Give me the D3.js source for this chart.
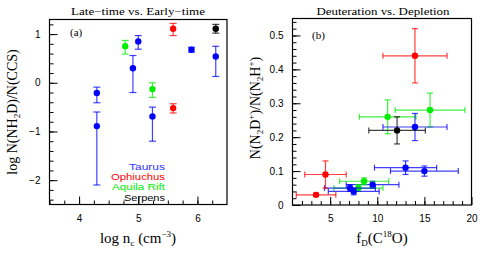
<!DOCTYPE html>
<html>
<head>
<meta charset="utf-8">
<script src="https://cdn.jsdelivr.net/npm/d3@7"></script>
<style>
  body { margin: 0; background: #fff; }
  svg { display: block; }
  .tick text { font-family: "Liberation Sans", Arial, sans-serif; font-size: 10px; fill: #000; }
  .domain { display: none; }
  .serif { font-family: "Liberation Serif", "Times New Roman", serif; }
</style>
</head>
<body>
<div id="chart"></div>
<script>
// region colours
const regions = ['Taurus', 'Ophiuchus', 'Aquila Rift', 'Serpens'];
const regionColors = ['#0000ff', '#ff0000', '#00ee00', '#000000'];

// panel (a): log n_c vs log N(NH2D)/N(CCS)
const aRegion = ['Taurus', 'Taurus', 'Aquila Rift', 'Taurus', 'Taurus', 'Aquila Rift', 'Taurus', 'Ophiuchus', 'Ophiuchus', 'Taurus', 'Serpens', 'Taurus'];
const aX   = [4.30, 4.30, 4.78, 4.91, 5.00, 5.24, 5.24, 5.59, 5.59, 5.90, 6.31, 6.31];
const aY   = [-0.21, -0.89, 0.75, 0.30, 0.85, -0.13, -0.69, 1.11, -0.52, 0.68, 1.11, 0.54];
const aYhi = [-0.09, -0.60, 0.87, 0.56, 0.97, 0.00, -0.50, 1.22, -0.43, 0.73, 1.20, 0.75];
const aYlo = [-0.41, -2.10, 0.59, -0.20, 0.69, -0.30, -1.20, 0.97, -0.62, 0.63, 1.02, 0.13];

// panel (b): f_D(C18O) vs N(N2D+)/N(N2H+)
const bRegion = ['Ophiuchus', 'Aquila Rift', 'Aquila Rift', 'Taurus', 'Serpens', 'Taurus', 'Taurus', 'Taurus', 'Aquila Rift', 'Aquila Rift', 'Taurus', 'Taurus', 'Ophiuchus', 'Ophiuchus'];
const bX    = [14.0, 15.6, 11.1, 14.0, 12.1, 13.0, 15.0, 9.5, 8.6, 8.0, 7.1, 7.5, 4.5, 3.5];
const bXerr = [3.4, 3.7, 3.0, 3.4, 3.0, 3.3, 3.6, 2.8, 2.6, 2.6, 2.7, 2.7, 2.2, 2.1];
const bY    = [0.44, 0.28, 0.26, 0.23, 0.22, 0.11, 0.10, 0.06, 0.07, 0.05, 0.05, 0.04, 0.09, 0.03];
const bYerr = [0.08, 0.05, 0.05, 0.04, 0.04, 0.02, 0.015, 0.01, 0.01, 0.01, 0.01, 0.01, 0.04, 0.005];

const aXTicks = [4, 5, 6];
const aYTicks = [-2, -1, 0, 1];
const bXTicks = [5, 10, 15, 20];
const bYTicks = [0, 0.1, 0.2, 0.3, 0.4, 0.5];

const width = 491, height = 253;
const color = d3.scaleOrdinal().domain(regions).range(regionColors);

const svg = d3.select('#chart').append('svg')
  .attr('width', width).attr('height', height);

function frame(x, y) {
  const [x0, x1] = x.range(), [y0, y1] = y.range();
  svg.append('rect')
    .attr('x', x0).attr('y', y1)
    .attr('width', x1 - x0).attr('height', y0 - y1)
    .attr('fill', 'none').attr('stroke', '#000').attr('stroke-width', 1.2);
}

function axes(x, y, xTicks, yTicks, xMinor, yMinor, yFmt) {
  const [y0] = y.range(), [x0] = x.range();
  // minor ticks (inward)
  svg.append('g').attr('transform', `translate(0,${y0})`)
    .call(d3.axisBottom(x).tickValues(xMinor).tickSize(-4).tickFormat(''));
  svg.append('g').attr('transform', `translate(${x0},0)`)
    .call(d3.axisLeft(y).tickValues(yMinor).tickSize(-4).tickFormat(''));
  // major ticks with labels
  svg.append('g').attr('transform', `translate(0,${y0})`)
    .call(d3.axisBottom(x).tickValues(xTicks).tickSize(-8).tickPadding(10).tickFormat(d3.format('d')));
  svg.append('g').attr('transform', `translate(${x0},0)`)
    .call(d3.axisLeft(y).tickValues(yTicks).tickSize(-8).tickPadding(9).tickFormat(yFmt));
  svg.selectAll('.tick line').attr('stroke', '#000');
}

// ---------- panel (a)
const xa = d3.scaleLinear().domain([3.5, 6.5]).range([49.5, 227]);
const ya = d3.scaleLinear().domain([-2.5, 1.3]).range([204.5, 19.5]);

axes(xa, ya, aXTicks, aYTicks, d3.range(3.5, 6.5, 0.25), d3.range(-2.4, 1.3, 0.2).map(v => +v.toFixed(1)),
  d3.format('d'));
frame(xa, ya);

const ga = svg.append('g');
aX.forEach((xv, i) => {
  const c = color(aRegion[i]);
  const px = xa(xv);
  const g = ga.append('g').attr('stroke', c).attr('stroke-opacity', 0.75).attr('stroke-width', 1.2);
  g.append('line').attr('x1', px).attr('x2', px).attr('y1', ya(aYhi[i])).attr('y2', ya(aYlo[i]));
  [aYhi[i], aYlo[i]].forEach(v => g.append('line')
    .attr('x1', px - 3.5).attr('x2', px + 3.5).attr('y1', ya(v)).attr('y2', ya(v)));
  ga.append('circle').attr('cx', px).attr('cy', ya(aY[i])).attr('r', 3.2).attr('fill', c);
});

svg.append('text').attr('class', 'serif').attr('x', 70).attr('y', 35.5)
  .attr('font-size', 11).text('(a)');

// legend
regions.forEach((r, i) => {
  svg.append('text')
    .attr('x', 165).attr('y', 170 + i * 10.2)
    .attr('text-anchor', 'end')
    .attr('font-family', '"Liberation Sans", Arial, sans-serif')
    .attr('font-size', 8.8)
    .attr('textLength', [36, 54, 53, 41][i]).attr('lengthAdjust', 'spacingAndGlyphs')
    .attr('fill', r === 'Taurus' ? '#3333ff' : color(r))
    .text(r);
});

svg.append('text').attr('class', 'serif')
  .attr('x', 138).attr('y', 14.5).attr('text-anchor', 'middle')
  .attr('font-size', 10)
  .attr('textLength', 134).attr('lengthAdjust', 'spacingAndGlyphs')
  .text('Late\u2212time vs. Early\u2212time');

const xla = svg.append('text').attr('class', 'serif')
  .attr('x', 138).attr('y', 243).attr('text-anchor', 'middle').attr('font-size', 15);
xla.append('tspan').text('log n');
xla.append('tspan').attr('font-size', 9).attr('dy', 3).text('c');
xla.append('tspan').attr('dy', -3).text(' (cm');
xla.append('tspan').attr('font-size', 9).attr('dy', -6).text('\u22123');
xla.append('tspan').attr('dy', 6).text(')');

const yla = svg.append('text').attr('class', 'serif')
  .attr('transform', 'translate(17,112) rotate(-90)').attr('text-anchor', 'middle').attr('font-size', 14);
yla.append('tspan').text('log N(NH');
yla.append('tspan').attr('font-size', 9).attr('dy', 3).text('2');
yla.append('tspan').attr('dy', -3).text('D)/N(CCS)');

// ---------- panel (b)
const xb = d3.scaleLinear().domain([1, 20]).range([292.5, 471.5]);
const yb = d3.scaleLinear().domain([0, 0.55]).range([205, 18.5]);

axes(xb, yb, bXTicks, bYTicks, d3.range(2, 20, 1), d3.range(0.02, 0.55, 0.02).map(v => +v.toFixed(2)),
  d => d === 0 ? '0' : d3.format('.1f')(d));
frame(xb, yb);

const gb = svg.append('g');
bX.forEach((xv, i) => {
  const c = color(bRegion[i]);
  const px = xb(xv), py = yb(bY[i]);
  const g = gb.append('g').attr('stroke', c).attr('stroke-opacity', 0.75).attr('stroke-width', 1.2);
  const xl = xb(xv - bXerr[i]), xr = xb(xv + bXerr[i]);
  const yt = yb(bY[i] + bYerr[i]), ybm = yb(bY[i] - bYerr[i]);
  g.append('line').attr('x1', xl).attr('x2', xr).attr('y1', py).attr('y2', py);
  [xl, xr].forEach(v => g.append('line').attr('x1', v).attr('x2', v).attr('y1', py - 3).attr('y2', py + 3));
  g.append('line').attr('x1', px).attr('x2', px).attr('y1', yt).attr('y2', ybm);
  [yt, ybm].forEach(v => g.append('line').attr('x1', px - 3).attr('x2', px + 3).attr('y1', v).attr('y2', v));
  gb.append('circle').attr('cx', px).attr('cy', py).attr('r', 3.2).attr('fill', c);
});

svg.append('text').attr('class', 'serif').attr('x', 312).attr('y', 39)
  .attr('font-size', 11).text('(b)');

svg.append('text').attr('class', 'serif')
  .attr('x', 383).attr('y', 14.5).attr('text-anchor', 'middle')
  .attr('font-size', 10)
  .attr('textLength', 133).attr('lengthAdjust', 'spacingAndGlyphs')
  .text('Deuteration vs. Depletion');

const xlb = svg.append('text').attr('class', 'serif')
  .attr('x', 382).attr('y', 243).attr('text-anchor', 'middle').attr('font-size', 15);
xlb.append('tspan').text('f');
xlb.append('tspan').attr('font-size', 9).attr('dy', 3).text('D');
xlb.append('tspan').attr('dy', -3).text('(C');
xlb.append('tspan').attr('font-size', 9).attr('dy', -6).text('18');
xlb.append('tspan').attr('dy', 6).text('O)');

const ylb = svg.append('text').attr('class', 'serif')
  .attr('transform', 'translate(260,108) rotate(-90)').attr('text-anchor', 'middle').attr('font-size', 14);
ylb.append('tspan').text('N(N');
ylb.append('tspan').attr('font-size', 9).attr('dy', 3).text('2');
ylb.append('tspan').attr('dy', -3).text('D');
ylb.append('tspan').attr('font-size', 9).attr('dy', -6).text('+');
ylb.append('tspan').attr('dy', 6).text(')/N(N');
ylb.append('tspan').attr('font-size', 9).attr('dy', 3).text('2');
ylb.append('tspan').attr('dy', -3).text('H');
ylb.append('tspan').attr('font-size', 9).attr('dy', -6).text('+');
ylb.append('tspan').attr('dy', 6).text(')');
</script>
</body>
</html>
